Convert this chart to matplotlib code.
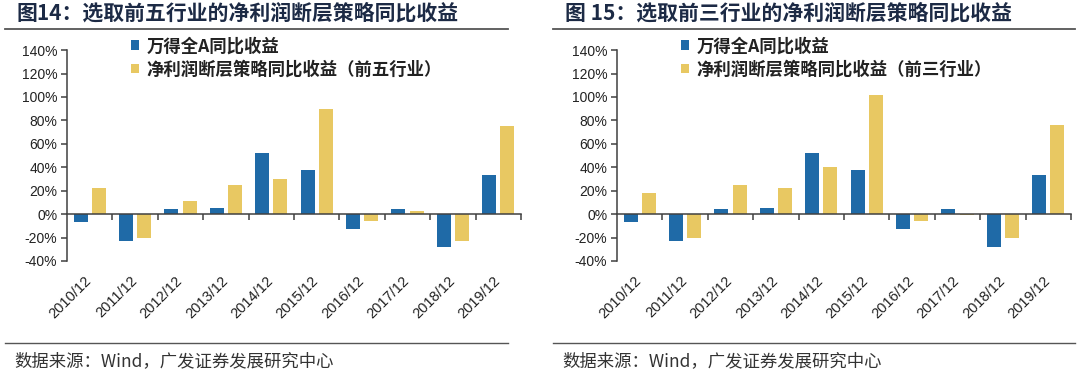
import numpy as np
import matplotlib
matplotlib.use("Agg")
import matplotlib.pyplot as plt
from matplotlib.lines import Line2D

plt.rcParams['font.family'] = ['Noto Sans CJK SC', 'DejaVu Sans']

### Data

categories = ['2010/12', '2011/12', '2012/12', '2013/12', '2014/12',
              '2015/12', '2016/12', '2017/12', '2018/12', '2019/12']

wind_a = [-7, -23, 4, 5, 52, 38, -13, 4, -28, 33]
top5_strategy = [22, -20, 11, 25, 30, 90, -6, 3, -23, 75]
top3_strategy = [18, -20, 25, 22, 40, 102, -6, -1, -20, 76]

titles = ['图14：选取前五行业的净利润断层策略同比收益',
          '图 15：选取前三行业的净利润断层策略同比收益']
legend_a = '万得全A同比收益'
legend_b = ['净利润断层策略同比收益（前五行业）',
            '净利润断层策略同比收益（前三行业）']
source = '数据来源：Wind，广发证券发展研究中心'

blue = '#1f6aa7'
yellow = '#e8c862'
dark = '#333333'

### Figure

fig = plt.figure(figsize=(10.8, 3.72), dpi=100)

panels = [(0.062, top5_strategy), (0.5713, top3_strategy)]
text_x = [0.015, 0.523]
line_x = [(0.005, 0.470), (0.512, 0.995)]
x = np.arange(len(categories))

for i, (x0, strategy) in enumerate(panels):
    ax = fig.add_axes([x0, 0.2984, 0.4204, 0.567])
    ax.bar(x - 0.2, wind_a, width=0.31, color=blue, label=legend_a, zorder=2)
    ax.bar(x + 0.2, strategy, width=0.31, color=yellow, label=legend_b[i], zorder=2)

    ax.set_xlim(-0.5, len(categories) - 0.5)
    ax.set_ylim(-40, 140)
    ax.set_yticks(np.arange(-40, 141, 20))
    ax.set_yticklabels([f'{v}%' for v in range(-40, 141, 20)],
                       family='Liberation Sans', fontsize=10, color='#222222')

    # x axis at zero, ticks between categories
    ax.spines['bottom'].set_position(('data', 0))
    ax.spines['top'].set_visible(False)
    ax.spines['right'].set_visible(False)
    for s in ('left', 'bottom'):
        ax.spines[s].set_color('#404040')
        ax.spines[s].set_linewidth(1.1)
    ax.set_xticks(np.arange(0.5, len(categories), 1.0))
    ax.set_xticklabels([])
    ax.tick_params(axis='x', direction='out', length=4, color='#404040', width=1.1)
    ax.tick_params(axis='y', direction='out', length=4, color='#404040', width=1.1, pad=3)

    for xi, lab in zip(x, categories):
        ax.text(xi + 0.1, -0.06, lab, transform=ax.get_xaxis_transform(),
                rotation=45, ha='right', va='top', family='Liberation Sans',
                fontsize=10.5, color='#222222')

    leg = ax.legend(loc='upper left', bbox_to_anchor=(0.14, 1.06), frameon=False,
                    prop={'size': 12.5, 'weight': 'bold'}, handlelength=0.5,
                    handleheight=0.5, handletextpad=0.4, labelspacing=0.3,
                    borderpad=0, borderaxespad=0)
    for t in leg.get_texts():
        t.set_color('#222222')

    # title, separators and source line
    fig.text(text_x[i], 0.965, titles[i], fontsize=15, fontweight='bold',
             color='#1c2a45', va='center', ha='left')
    fig.add_artist(Line2D(line_x[i], [0.922, 0.922], color='#555555', lw=1.3))
    fig.add_artist(Line2D(line_x[i], [0.078, 0.078], color='#555555', lw=1.0))
    fig.text(text_x[i] - 0.002, 0.03, source, fontsize=12.5, color=dark,
             va='center', ha='left')

plt.savefig('out.png', dpi=100)
